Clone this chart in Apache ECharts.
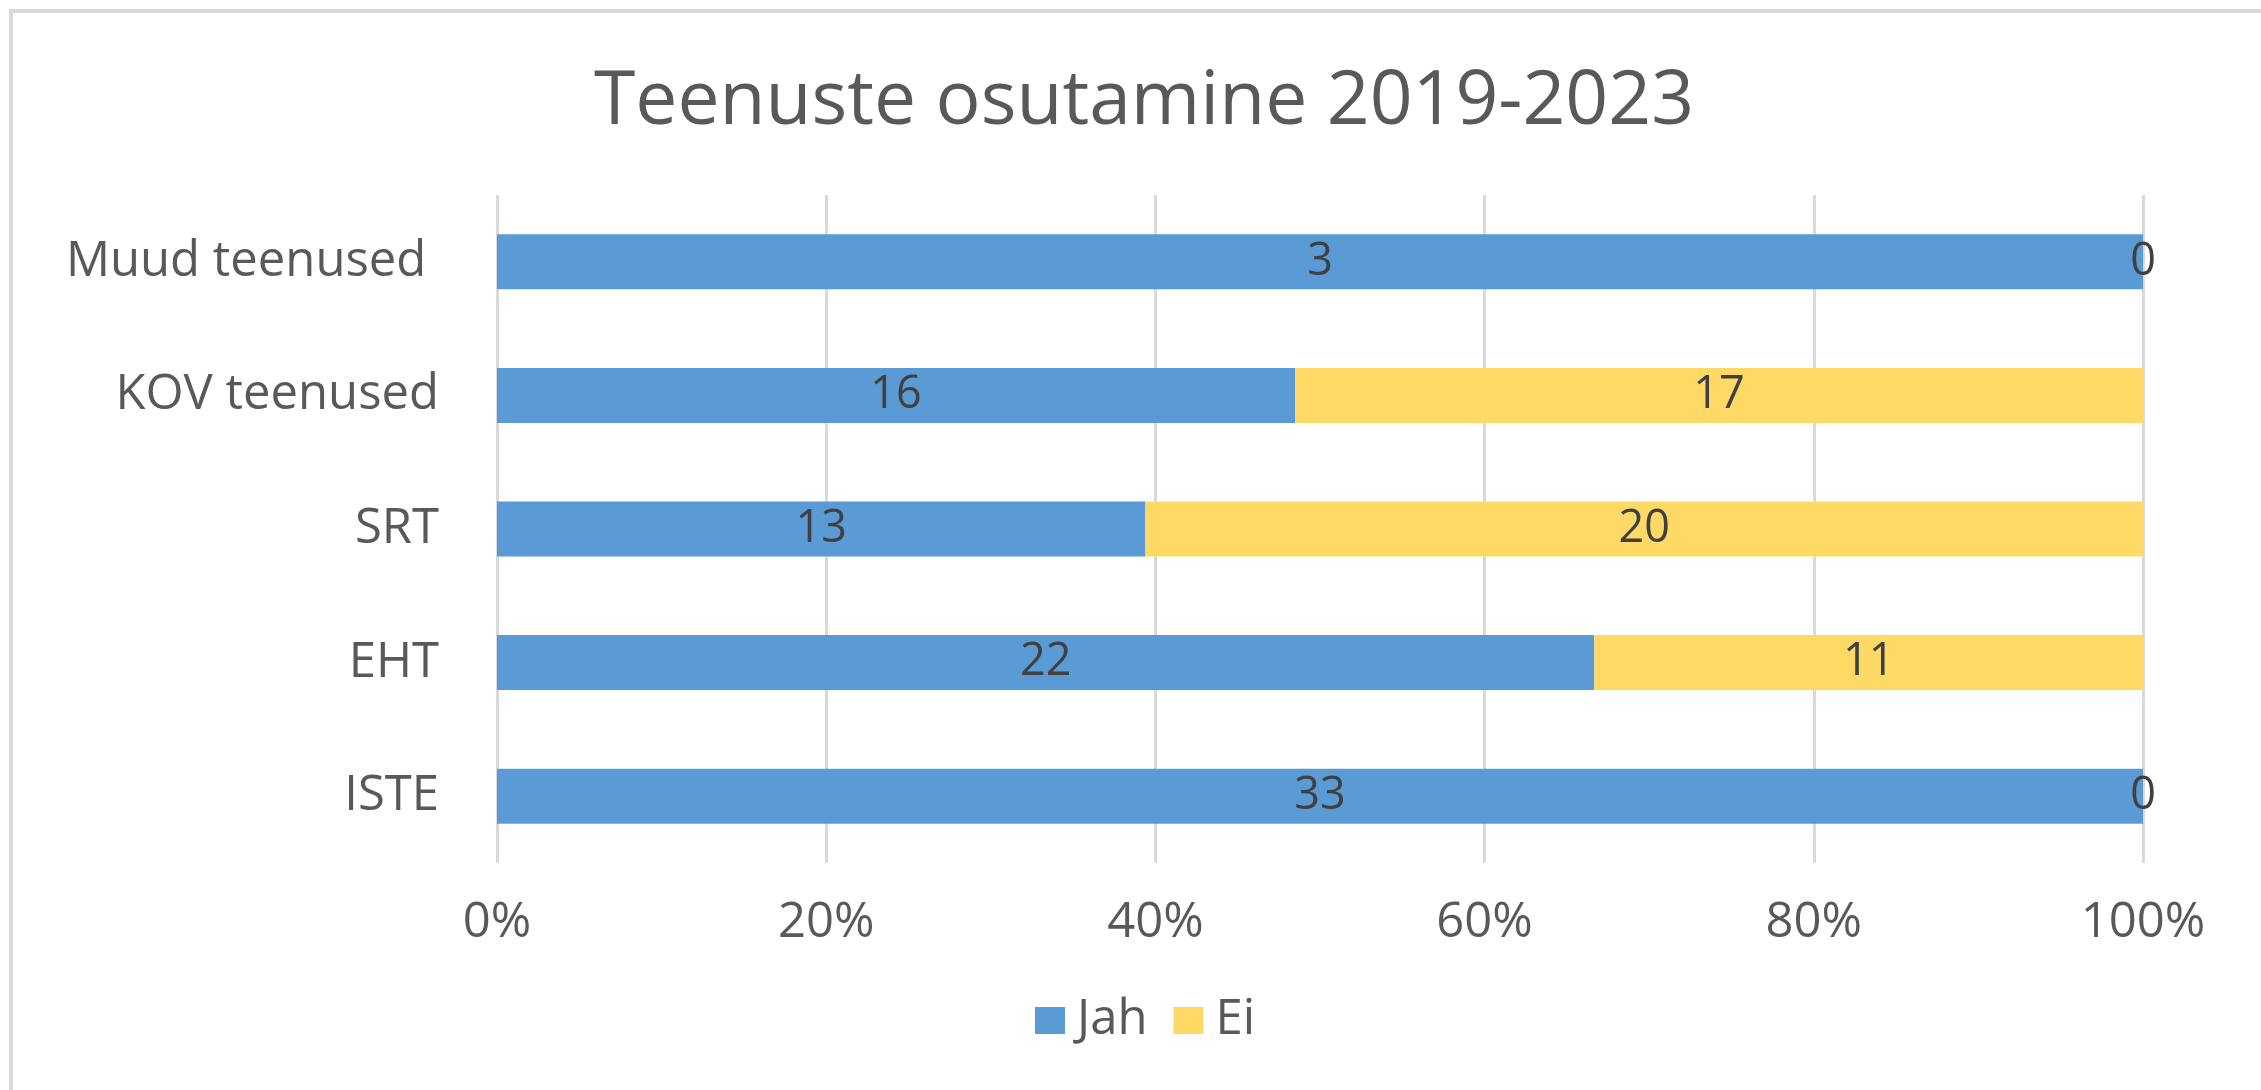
<!DOCTYPE html>
<html>
<head>
<meta charset="utf-8">
<script src="https://cdn.jsdelivr.net/npm/echarts@6/dist/echarts.min.js"></script>
<style>
html,body{margin:0;padding:0;background:#fff;}
#chart{width:2261px;height:1090px;}
</style>
</head>
<body>
<div id="chart"></div>
<script>
const categories = ['ISTE', 'EHT', 'SRT', 'KOV teenused', 'Muud teenused '];
const jahValues = [33, 22, 13, 16, 3];
const eiValues = [0, 11, 20, 17, 0];
const xTicks = [0, 0.2, 0.4, 0.6, 0.8, 1];

const totals = jahValues.map((v, i) => v + eiValues[i]);
const jahShare = jahValues.map((v, i) => ({ value: v / totals[i], raw: v }));
const eiShare = eiValues.map((v, i) => ({ value: v / totals[i], raw: v }));

const FONT = '"Open Sans", sans-serif';
const chart = echarts.init(document.getElementById('chart'));
const labelCfg = {
  show: true,
  position: 'inside',
  color: '#404040',
  fontFamily: FONT,
  fontSize: 45,
  formatter: p => String(p.data.raw)
};
chart.setOption({
  backgroundColor: '#ffffff',
  animation: false,
  title: {
    text: 'Teenuste osutamine 2019-2023',
    left: 1139,
    textAlign: 'center',
    top: 60,
    textStyle: { color: '#595959', fontFamily: FONT, fontSize: 75, fontWeight: 'normal' }
  },
  graphic: [{
    type: 'rect',
    shape: { x: 11, y: 11, width: 2400, height: 1300 },
    style: { fill: 'none', stroke: '#d9d9d9', lineWidth: 4 },
    silent: true
  }],
  legend: {
    bottom: 40,
    left: 1030,
    itemWidth: 30,
    itemHeight: 27,
    itemGap: 26,
    icon: 'rect',
    textStyle: { color: '#595959', fontFamily: FONT, fontSize: 49, padding: [0, 0, 0, 7] },
    data: ['Jah', 'Ei']
  },
  grid: { left: 497, right: 118, top: 195, bottom: 227, containLabel: false },
  xAxis: {
    type: 'value',
    min: 0,
    max: 1,
    interval: 0.2,
    axisLine: { show: false },
    axisTick: { show: false },
    splitLine: { show: true, lineStyle: { color: '#d9d9d9', width: 3 } },
    axisLabel: {
      color: '#595959', fontFamily: FONT, fontSize: 49, margin: 36,
      formatter: v => Math.round(v * 100) + '%'
    }
  },
  yAxis: {
    type: 'category',
    data: categories,
    axisLine: { show: false },
    axisTick: { show: false },
    axisLabel: { color: '#595959', fontFamily: FONT, fontSize: 49, margin: 58 }
  },
  series: [
    { name: 'Jah', type: 'bar', stack: 'total', barWidth: 55, itemStyle: { color: '#5B9BD5' }, label: labelCfg, data: jahShare },
    { name: 'Ei', type: 'bar', stack: 'total', barWidth: 55, itemStyle: { color: '#FFD966' }, label: labelCfg, data: eiShare }
  ]
});
</script>
</body>
</html>
